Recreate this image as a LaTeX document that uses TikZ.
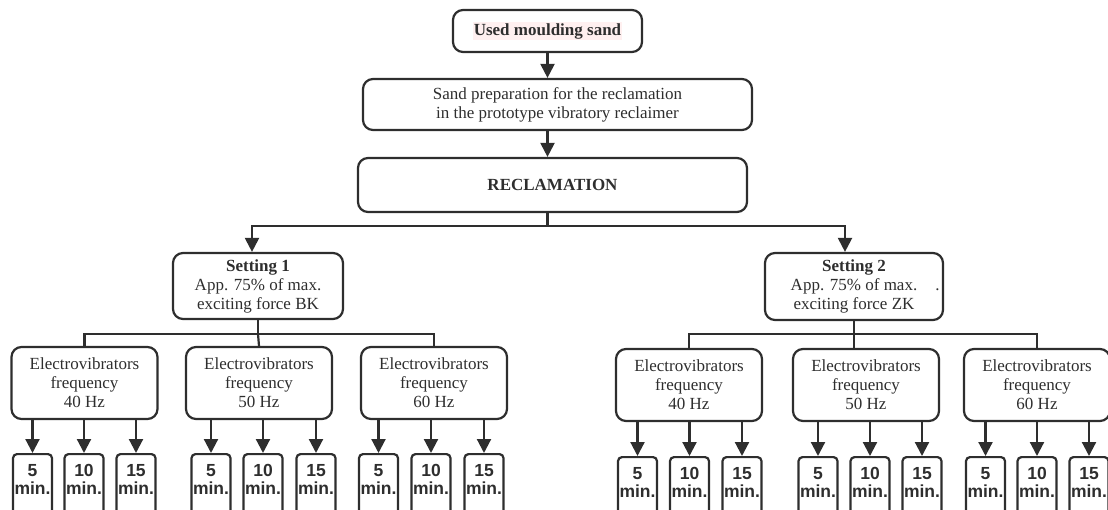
\documentclass[tikz,border=0pt]{standalone}
\usepackage{fontspec}
\setmainfont{Liberation Serif}
\newfontfamily\arialfont{Liberation Sans}
\usetikzlibrary{arrows.meta}
\setlength{\fboxsep}{1pt}

\begin{document}
\begin{tikzpicture}[x=1pt,y=-1pt,line width=2.2pt,color=black!82,
  every node/.style={font=\fontsize{17}{19}\selectfont},
  box/.style={draw,rounded corners=10pt,align=center,inner sep=0pt},
  freqbox/.style={box,minimum width=146,minimum height=72},
  minbox/.style={draw,rounded corners=4pt,align=center,inner sep=0pt,anchor=north,
    minimum width=39,minimum height=64,text depth=14pt,
    font=\arialfont\bfseries\fontsize{17.5}{18}\selectfont},
  arr/.style={-{Triangle[width=14pt,length=14pt]}}]
\useasboundingbox (0,0) rectangle (1108,510);
%top
\node[box,minimum width=189,minimum height=42,font=\fontsize{17}{19}\selectfont\bfseries] (used) at (547.5,31) {\colorbox{red!6}{Used moulding sand}};
\node[box,minimum width=389,minimum height=51] (prep) at (557.5,104.5) {Sand preparation for the reclamation\\in the prototype vibratory reclaimer};
\node[box,minimum width=389,minimum height=54,font=\fontsize{17}{19}\selectfont\bfseries] (recl) at (552.5,185) {RECLAMATION};
\draw[arr] (used)--(used|-prep.north);
\draw[arr] (prep.south-|used)--(recl.north-|used);
\draw (recl.south-|used)--++(0,13) coordinate (split);
%settings
\node[box,minimum width=170,minimum height=66] (set1) at (258,286) {\textbf{Setting 1}\\App. 75\% of max.\\exciting force BK};
\node[box,minimum width=178,minimum height=67] (set2) at (854,286.5) {\textbf{Setting 2}\\App. 75\% of max.\rlap{\hspace{18pt}.}\\exciting force ZK};
\draw[arr] (split)-|([xshift=-6pt]set1.north);
\draw[arr] (split)-|([xshift=-9pt]set2.north);
%setting 1
\node[freqbox] (a40) at (84.5,383) {Electrovibrators\\frequency\\40 Hz};
\node[freqbox] (a50) at (259,383) {Electrovibrators\\frequency\\50 Hz};
\node[freqbox] (a60) at (434,383) {Electrovibrators\\frequency\\60 Hz};
\draw (set1.south)--++(0,14) coordinate (s1);
\draw (a40.north)|-(s1)-|(a60.north);
\draw (s1)--(a50.north);
\node[minbox] (a40t5) at (32.5,453) {5\\min.};
\node[minbox] (a40t10) at (84,453) {10\\min.};
\node[minbox] (a40t15) at (136,453) {15\\min.};
\node[minbox] (a50t5) at (211,453) {5\\min.};
\node[minbox] (a50t10) at (263,453) {10\\min.};
\node[minbox] (a50t15) at (316,453) {15\\min.};
\node[minbox] (a60t5) at (378.5,453) {5\\min.};
\node[minbox] (a60t10) at (431,453) {10\\min.};
\node[minbox] (a60t15) at (484,453) {15\\min.};
\draw[arr] (a40.south-|a40t5)--(a40t5);
\draw[arr] (a40.south-|a40t10)--(a40t10);
\draw[arr] (a40.south-|a40t15)--(a40t15);
\draw[arr] (a50.south-|a50t5)--(a50t5);
\draw[arr] (a50.south-|a50t10)--(a50t10);
\draw[arr] (a50.south-|a50t15)--(a50t15);
\draw[arr] (a60.south-|a60t5)--(a60t5);
\draw[arr] (a60.south-|a60t10)--(a60t10);
\draw[arr] (a60.south-|a60t15)--(a60t15);
%setting 2
\node[freqbox] (b40) at (689,385) {Electrovibrators\\frequency\\40 Hz};
\node[freqbox] (b50) at (866,385) {Electrovibrators\\frequency\\50 Hz};
\node[freqbox] (b60) at (1037,385) {Electrovibrators\\frequency\\60 Hz};
\draw (set2.south)--++(0,13) coordinate (s2);
\draw (b40.north)|-(s2)-|(b60.north);
\draw (s2)--(s2|-b50.north);
\node[minbox] (b40t5) at (637.5,456) {5\\min.};
\node[minbox] (b40t10) at (689.5,456) {10\\min.};
\node[minbox] (b40t15) at (742,456) {15\\min.};
\node[minbox] (b50t5) at (818,456) {5\\min.};
\node[minbox] (b50t10) at (870,456) {10\\min.};
\node[minbox] (b50t15) at (922,456) {15\\min.};
\node[minbox] (b60t5) at (985.5,456) {5\\min.};
\node[minbox] (b60t10) at (1037,456) {10\\min.};
\node[minbox] (b60t15) at (1089,456) {15\\min.};
\draw[arr] (b40.south-|b40t5)--(b40t5);
\draw[arr] (b40.south-|b40t10)--(b40t10);
\draw[arr] (b40.south-|b40t15)--(b40t15);
\draw[arr] (b50.south-|b50t5)--(b50t5);
\draw[arr] (b50.south-|b50t10)--(b50t10);
\draw[arr] (b50.south-|b50t15)--(b50t15);
\draw[arr] (b60.south-|b60t5)--(b60t5);
\draw[arr] (b60.south-|b60t10)--(b60t10);
\draw[arr] (b60.south-|b60t15)--(b60t15);
\end{tikzpicture}
\end{document}
